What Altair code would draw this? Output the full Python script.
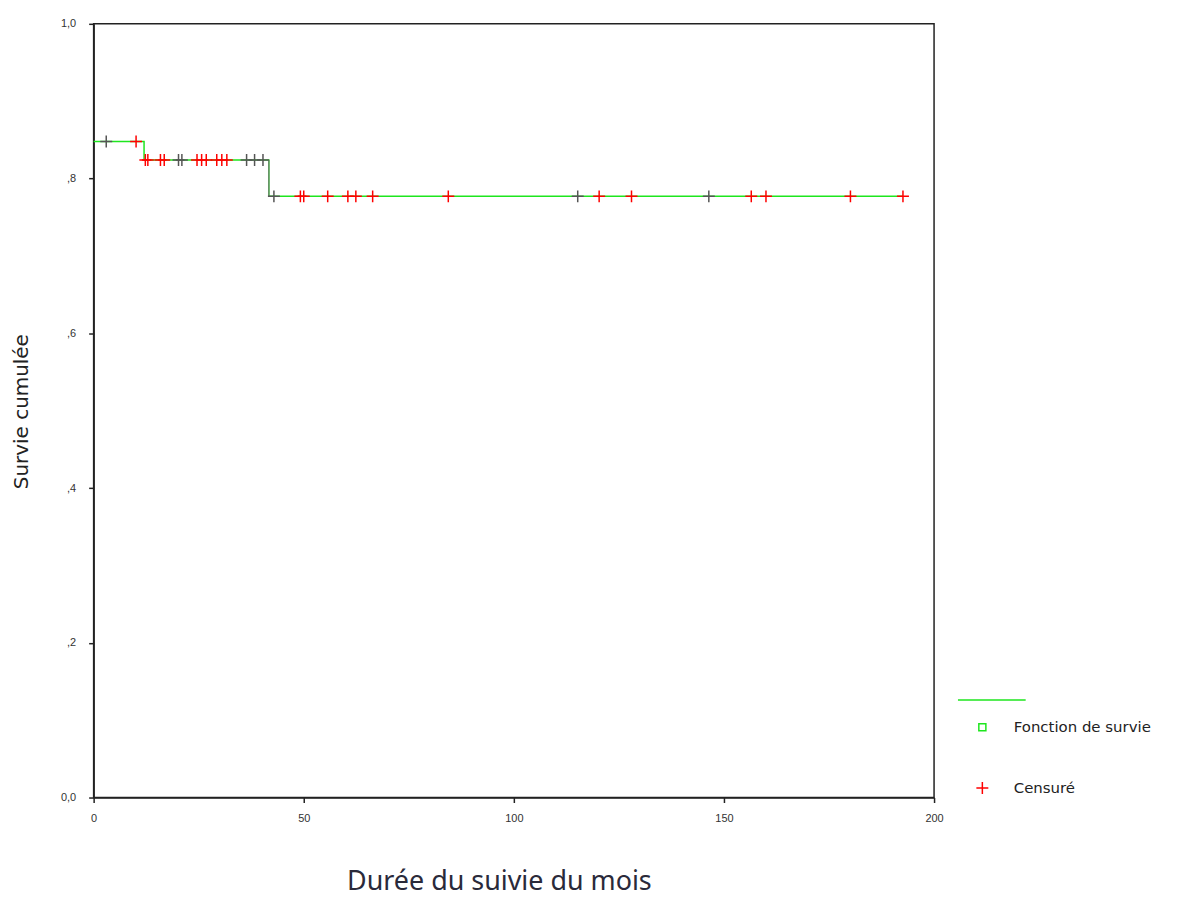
import altair as alt
import pandas as pd

# Kaplan-Meier step function (time in months, cumulative survival)
step_t = [0, 12.0, 12.0, 41.7, 41.7, 192.6]
step_s = [0.848, 0.848, 0.824, 0.824, 0.777, 0.777]

# vertical drop drawn in grey
drop_t = [41.7]
drop_top = [0.824]
drop_bot = [0.777]

# censored observations (red)
cens_red_t = [10.1, 12.3, 12.9, 15.9, 16.8, 24.6, 25.7, 26.8, 29.3, 30.5, 31.7,
              49.2, 50.0, 55.7, 60.5, 62.4, 66.4, 84.4, 120.3, 128.0, 156.5,
              160.0, 180.1, 192.6]
cens_red_s = [0.848, 0.824, 0.824, 0.824, 0.824, 0.824, 0.824, 0.824, 0.824,
              0.824, 0.824, 0.777, 0.777, 0.777, 0.777, 0.777, 0.777, 0.777,
              0.777, 0.777, 0.777, 0.777, 0.777, 0.777]
# censored observations drawn darker
cens_grey_t = [3.0, 20.2, 21.0, 36.4, 38.3, 40.3, 42.9, 115.2, 146.4]
cens_grey_s = [0.848, 0.824, 0.824, 0.824, 0.824, 0.824, 0.777, 0.777, 0.777]

legend_labels = ["Fonction de survie", "Censuré"]
legend_colors = ["#1ee61e", "#ff0000"]
PLUS = "M-1.7,0L1.7,0M0,-1.7L0,1.7"

y_ticks = [0, 0.2, 0.4, 0.6, 0.8, 1.0]
x_ticks = [0, 50, 100, 150, 200]

step_df = pd.DataFrame({"t": step_t, "s": step_s, "o": list(range(len(step_t)))})
drop_df = pd.DataFrame({"t": drop_t, "s": drop_top, "s2": drop_bot})
red_df = pd.DataFrame({"t": cens_red_t, "s": cens_red_s, "kind": ["Censuré"] * len(cens_red_t)})
grey_df = pd.DataFrame({"t": cens_grey_t, "s": cens_grey_s})

xscale = alt.Scale(domain=[0, 200], nice=False, zero=False)
yscale = alt.Scale(domain=[0, 1], nice=False)

xaxis = alt.Axis(values=x_ticks, title="Durée du suivie du mois", grid=False,
                 domainColor="#222", domainWidth=1.5, tickColor="#222", tickSize=5,
                 tickWidth=1.5, labelFont="Liberation Sans", labelFontSize=11,
                 labelColor="#333", labelPadding=10, labelFlush=False,
                 titleFont="Noto Sans", titleFontSize=27, titleFontWeight="normal",
                 titleColor="#2a2a3a", titleX=407, titleY=84, titleBaseline="middle",
                 titleAlign="center")
yaxis = alt.Axis(values=y_ticks, title="Survie cumulée", grid=False,
                 labelExpr="datum.value == 0 ? '0,0' : datum.value == 1 ? '1,0' : ',' + format(datum.value*10, 'd')",
                 domainColor="#222", domainWidth=1.5, tickColor="#222", tickSize=5,
                 tickWidth=1.5, labelFont="Liberation Sans", labelFontSize=11,
                 labelColor="#333", labelPadding=13, labelFlush=False,
                 titleFont="DejaVu Sans", titleFontSize=20, titleFontWeight="normal",
                 titleColor="#222", titleX=-72, titleY=389, titleBaseline="middle",
                 titleAlign="center", titleAngle=270)

line = alt.Chart(step_df).mark_line(color="#1ee61e", strokeWidth=1.5).encode(
    x=alt.X("t:Q", scale=xscale, axis=xaxis),
    y=alt.Y("s:Q", scale=yscale, axis=yaxis),
    order="o:Q",
)

drop = alt.Chart(drop_df).mark_rule(color="#777", strokeWidth=1.2).encode(
    x="t:Q", y="s:Q", y2="s2:Q"
)

leg = dict(title=None, orient="none", legendX=885, legendY=699,
           padding=0, symbolSize=50, symbolStrokeWidth=1.5,
           labelFont="DejaVu Sans", labelFontSize=15, labelColor="#222",
           labelOffset=24, rowPadding=43, symbolFillColor="transparent")

red = alt.Chart(red_df).mark_point(size=50, strokeWidth=1.5, opacity=1).encode(
    x="t:Q", y="s:Q",
    color=alt.Color("kind:N", scale=alt.Scale(domain=legend_labels, range=legend_colors),
                    legend=alt.Legend(**leg)),
    shape=alt.Shape("kind:N", scale=alt.Scale(domain=legend_labels, range=["square", PLUS]),
                    legend=alt.Legend(**leg)),
)

grey = alt.Chart(grey_df).mark_point(size=50, strokeWidth=1.5, opacity=1, shape=PLUS,
                                     color="#555").encode(x="t:Q", y="s:Q")

legend_line = alt.Chart(pd.DataFrame({"k": [legend_labels[0]]})).mark_rule(
    color="#1ee61e", strokeWidth=1.5).encode(
    x=alt.value(868), x2=alt.value(936), y=alt.value(679))

chart = alt.layer(line, drop, grey, red, legend_line).properties(
    width=844, height=777,
    autosize=alt.AutoSizeParams(type="none"),
    padding={"left": 86, "top": 14, "right": 250, "bottom": 100},
).configure(background="white").configure_view(stroke="#222", strokeWidth=1.5)

chart.save("out.html", embed_options={"renderer": "svg", "actions": False})
